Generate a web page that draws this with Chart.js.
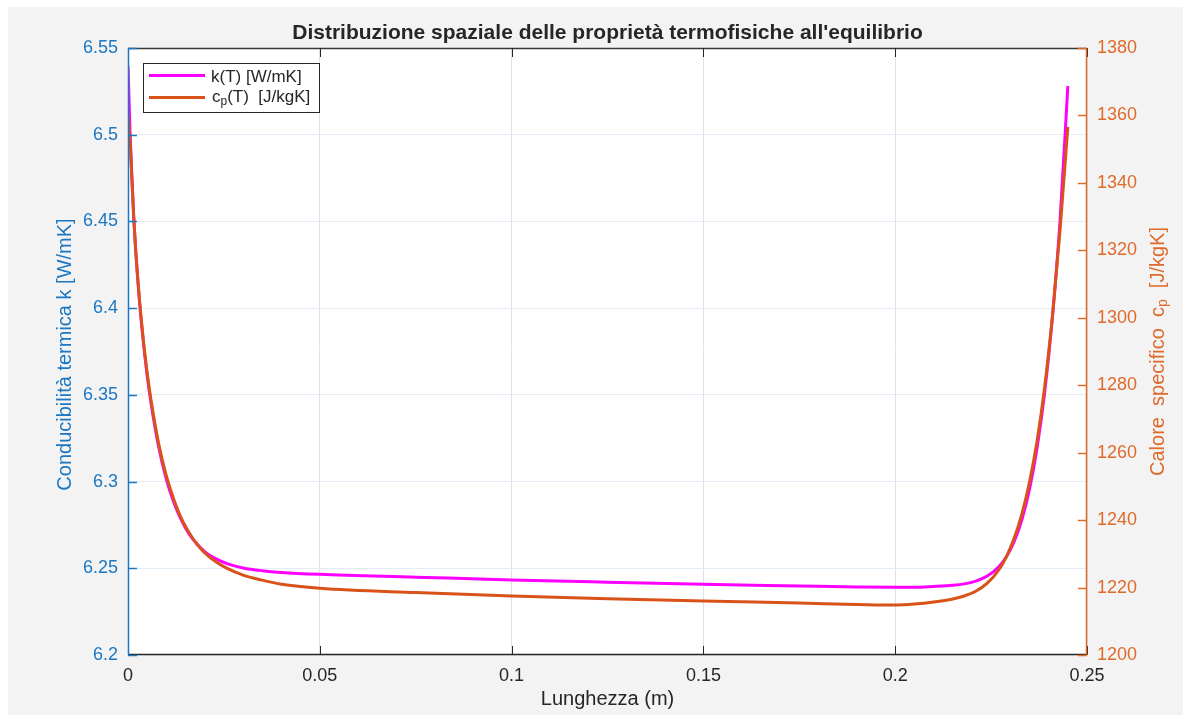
<!DOCTYPE html>
<html>
<head>
<meta charset="utf-8">
<script src="https://cdn.jsdelivr.net/npm/chart.js@4.4.1/dist/chart.umd.min.js"></script>
<style>
html,body{margin:0;padding:0;background:#fff;overflow:hidden}
#wrap{position:absolute;left:0;top:0;width:1183px;height:715px}
</style>
</head>
<body>
<div id="wrap"><canvas id="c" width="1183" height="715"></canvas></div>
<script>
// ---- data ----
const positions = [0, 0.0005, 0.001, 0.0015, 0.002, 0.003, 0.004, 0.005, 0.006, 0.008,
  0.010, 0.012, 0.014, 0.016, 0.018, 0.020, 0.023, 0.026, 0.030, 0.035,
  0.040, 0.050, 0.075, 0.100, 0.125, 0.150, 0.175, 0.190, 0.200, 0.205,
  0.210, 0.215, 0.218, 0.221, 0.224, 0.227, 0.229, 0.231, 0.233, 0.235,
  0.237, 0.239, 0.241, 0.243, 0.245];
const kValues = [6.5396, 6.5040, 6.4762, 6.4523, 6.4335, 6.4038, 6.3805, 6.3611, 6.3453, 6.3199,
  6.3013, 6.2876, 6.2773, 6.2695, 6.2640, 6.2596, 6.2554, 6.2525, 6.2502, 6.2486,
  6.2476, 6.2465, 6.2449, 6.2433, 6.2420, 6.2408, 6.2398, 6.2392, 6.2390, 6.2390,
  6.2395, 6.2402, 6.2410, 6.2426, 6.2455, 6.2509, 6.2567, 6.2653, 6.2778, 6.2954,
  6.3197, 6.3521, 6.3951, 6.4514, 6.5280];
const cpValues = [1360.1, 1353.3, 1341.5, 1329.6, 1320.1, 1305.3, 1293.4, 1283.6, 1275.6, 1262.6,
  1253.1, 1246.0, 1240.3, 1236.2, 1232.8, 1230.3, 1227.6, 1225.6, 1223.7, 1222.2,
  1221.0, 1219.8, 1218.5, 1217.5, 1216.7, 1216.0, 1215.4, 1215.0, 1214.8, 1215.1,
  1215.7, 1216.6, 1217.5, 1218.9, 1221.3, 1225.2, 1229.2, 1234.6, 1241.7, 1251.2,
  1263.6, 1279.8, 1300.6, 1326.4, 1356.6];

const xTickValues = [0, 0.05, 0.1, 0.15, 0.2, 0.25];
const xTickLabels = ['0', '0.05', '0.1', '0.15', '0.2', '0.25'];
const kTickValues = [6.2, 6.25, 6.3, 6.35, 6.4, 6.45, 6.5, 6.55];
const kTickLabels = ['6.2', '6.25', '6.3', '6.35', '6.4', '6.45', '6.5', '6.55'];
const cpTickValues = [1200, 1220, 1240, 1260, 1280, 1300, 1320, 1340, 1360, 1380];
const cpTickLabels = ['1200', '1220', '1240', '1260', '1280', '1300', '1320', '1340', '1360', '1380'];

const titleText = "Distribuzione spaziale delle proprietà termofisiche all'equilibrio";
const xTitle = 'Lunghezza (m)';
const yLeftTitle = [{t: 'Conducibilità termica k [W/mK]'}];
const yRightTitle = [{t: 'Calore  specifico  c'}, {t: 'p', sub: true}, {t: '  [J/kgK]'}];
const legendK = [{t: 'k(T) [W/mK]'}];
const legendCp = [{t: 'c'}, {t: 'p', sub: true}, {t: '(T)  [J/kgK]'}];

// ---- styles ----
const FONT = "'Liberation Sans', Arial, Helvetica, sans-serif";
const BLUE = '#1c77c3';
const ORANGE = '#df6a2a';
const DARK = '#262626';
const MAGENTA = '#ff00ff';
const CPCOL = '#d95319';

function partsWidth(ctx, parts, size) {
  let w = 0;
  for (const p of parts) {
    ctx.font = (p.sub ? Math.round(size * 0.72) : size) + 'px ' + FONT;
    w += ctx.measureText(p.t).width;
  }
  return w;
}
function drawParts(ctx, parts, x, y, size, align) {
  const w = partsWidth(ctx, parts, size);
  let cx = align === 'center' ? x - w / 2 : x;
  ctx.textBaseline = 'middle';
  ctx.textAlign = 'left';
  for (const p of parts) {
    const s = p.sub ? Math.round(size * 0.72) : size;
    ctx.font = s + 'px ' + FONT;
    ctx.fillText(p.t, cx, p.sub ? y + size * 0.28 : y);
    cx += ctx.measureText(p.t).width;
  }
}
function line(ctx, x1, y1, x2, y2) {
  ctx.beginPath(); ctx.moveTo(x1, y1); ctx.lineTo(x2, y2); ctx.stroke();
}

const deco = {
  id: 'deco',
  beforeDraw(chart) {
    const ctx = chart.ctx, a = chart.chartArea;
    ctx.save();
    ctx.fillStyle = '#ffffff';
    ctx.fillRect(0, 0, chart.width, chart.height);
    ctx.fillStyle = '#f3f3f3';
    ctx.fillRect(8, 7, chart.width - 8, chart.height - 7);
    ctx.fillStyle = '#ffffff';
    ctx.fillRect(a.left, a.top, a.right - a.left, a.bottom - a.top);
    ctx.restore();
  },
  afterDraw(chart) {
    const ctx = chart.ctx, a = chart.chartArea;
    const xs = chart.scales.x, yl = chart.scales.y, yr = chart.scales.y1;
    const TL = 9;
    ctx.save();
    ctx.lineWidth = 1.5;
    ctx.strokeStyle = '#3a3a3a';
    line(ctx, a.left, a.top + 0.5, a.right, a.top + 0.5);
    ctx.strokeStyle = DARK;
    line(ctx, a.left, a.bottom - 0.5, a.right, a.bottom - 0.5);
    ctx.lineWidth = 1;
    for (const v of xTickValues) {
      const px = Math.round(xs.getPixelForValue(v)) + 0.5;
      line(ctx, px, a.bottom, px, a.bottom - TL);
      line(ctx, px, a.top, px, a.top + TL);
    }
    ctx.lineWidth = 1.5;
    ctx.strokeStyle = BLUE;
    line(ctx, a.left + 0.5, a.top, a.left + 0.5, a.bottom);
    for (const v of kTickValues) {
      const py = Math.round(yl.getPixelForValue(v)) + 0.5;
      line(ctx, a.left, py, a.left + TL, py);
    }
    ctx.strokeStyle = ORANGE;
    line(ctx, a.right - 0.5, a.top, a.right - 0.5, a.bottom);
    for (const v of cpTickValues) {
      const py = Math.round(yr.getPixelForValue(v)) + 0.5;
      line(ctx, a.right - TL, py, a.right, py);
    }
    // title
    ctx.fillStyle = DARK;
    ctx.font = 'bold 21px ' + FONT;
    ctx.textAlign = 'center';
    ctx.textBaseline = 'middle';
    ctx.fillText(titleText, (a.left + a.right) / 2, 33);
    // x title
    ctx.font = '20px ' + FONT;
    ctx.fillText(xTitle, (a.left + a.right) / 2, 699);
    // left title
    const cy = (a.top + a.bottom) / 2;
    ctx.save();
    ctx.translate(65, cy + 3);
    ctx.rotate(-Math.PI / 2);
    ctx.fillStyle = BLUE;
    drawParts(ctx, yLeftTitle, 0, 0, 20, 'center');
    ctx.restore();
    // right title
    ctx.save();
    ctx.translate(1158, cy);
    ctx.rotate(-Math.PI / 2);
    ctx.fillStyle = ORANGE;
    drawParts(ctx, yRightTitle, 0, 0, 20, 'center');
    ctx.restore();
    // legend
    const lx = 143, ly = 63, lw = 176, lh = 49;
    ctx.fillStyle = '#ffffff';
    ctx.fillRect(lx, ly, lw, lh);
    ctx.strokeStyle = DARK;
    ctx.lineWidth = 1;
    ctx.strokeRect(lx + 0.5, ly + 0.5, lw, lh);
    ctx.lineWidth = 3;
    ctx.strokeStyle = MAGENTA;
    line(ctx, 149, 75.5, 205, 75.5);
    ctx.strokeStyle = CPCOL;
    line(ctx, 149, 97.5, 205, 97.5);
    ctx.fillStyle = DARK;
    drawParts(ctx, legendK, 211, 77, 17, 'left');
    drawParts(ctx, legendCp, 212, 97, 17, 'left');
    ctx.restore();
  }
};

const kData = positions.map((x, i) => ({x: x, y: kValues[i]}));
const cpData = positions.map((x, i) => ({x: x, y: cpValues[i]}));

new Chart(document.getElementById('c'), {
  type: 'line',
  data: {
    datasets: [
      {label: 'k(T) [W/mK]', data: kData, yAxisID: 'y', borderColor: MAGENTA, borderWidth: 3,
        pointRadius: 0, fill: false, cubicInterpolationMode: 'monotone', order: 2},
      {label: 'cp(T) [J/kgK]', data: cpData, yAxisID: 'y1', borderColor: CPCOL, borderWidth: 3,
        pointRadius: 0, fill: false, cubicInterpolationMode: 'monotone', order: 1}
    ]
  },
  options: {
    responsive: false,
    devicePixelRatio: 1,
    animation: false,
    layout: {padding: {top: 48, left: 0, right: 0, bottom: 0}},
    plugins: {legend: {display: false}, title: {display: false}, tooltip: {enabled: false}},
    scales: {
      x: {
        type: 'linear', position: 'bottom', min: 0, max: 0.25,
        afterBuildTicks: s => { s.ticks = xTickValues.map(v => ({value: v})); },
        afterFit: s => { s.height = 60; },
        ticks: {color: DARK, font: {family: FONT, size: 18}, padding: 10, maxRotation: 0,
          callback: (v, i) => xTickLabels[i]},
        grid: {color: '#dde2e8', drawTicks: false, lineWidth: 1},
        border: {display: false}
      },
      y: {
        type: 'linear', position: 'left', min: 6.2, max: 6.55,
        afterBuildTicks: s => { s.ticks = kTickValues.map(v => ({value: v})); },
        afterFit: s => { s.width = 128; },
        ticks: {color: BLUE, font: {family: FONT, size: 18}, padding: 10,
          callback: (v, i) => kTickLabels[i]},
        grid: {color: '#e3edf7', drawTicks: false, lineWidth: 1},
        border: {display: false}
      },
      y1: {
        type: 'linear', position: 'right', min: 1200, max: 1380,
        afterBuildTicks: s => { s.ticks = cpTickValues.map(v => ({value: v})); },
        afterFit: s => { s.width = 96; },
        ticks: {color: ORANGE, font: {family: FONT, size: 18}, padding: 10,
          callback: (v, i) => cpTickLabels[i]},
        grid: {display: false, drawTicks: false},
        border: {display: false}
      }
    }
  },
  plugins: [deco]
});
</script>
</body>
</html>
